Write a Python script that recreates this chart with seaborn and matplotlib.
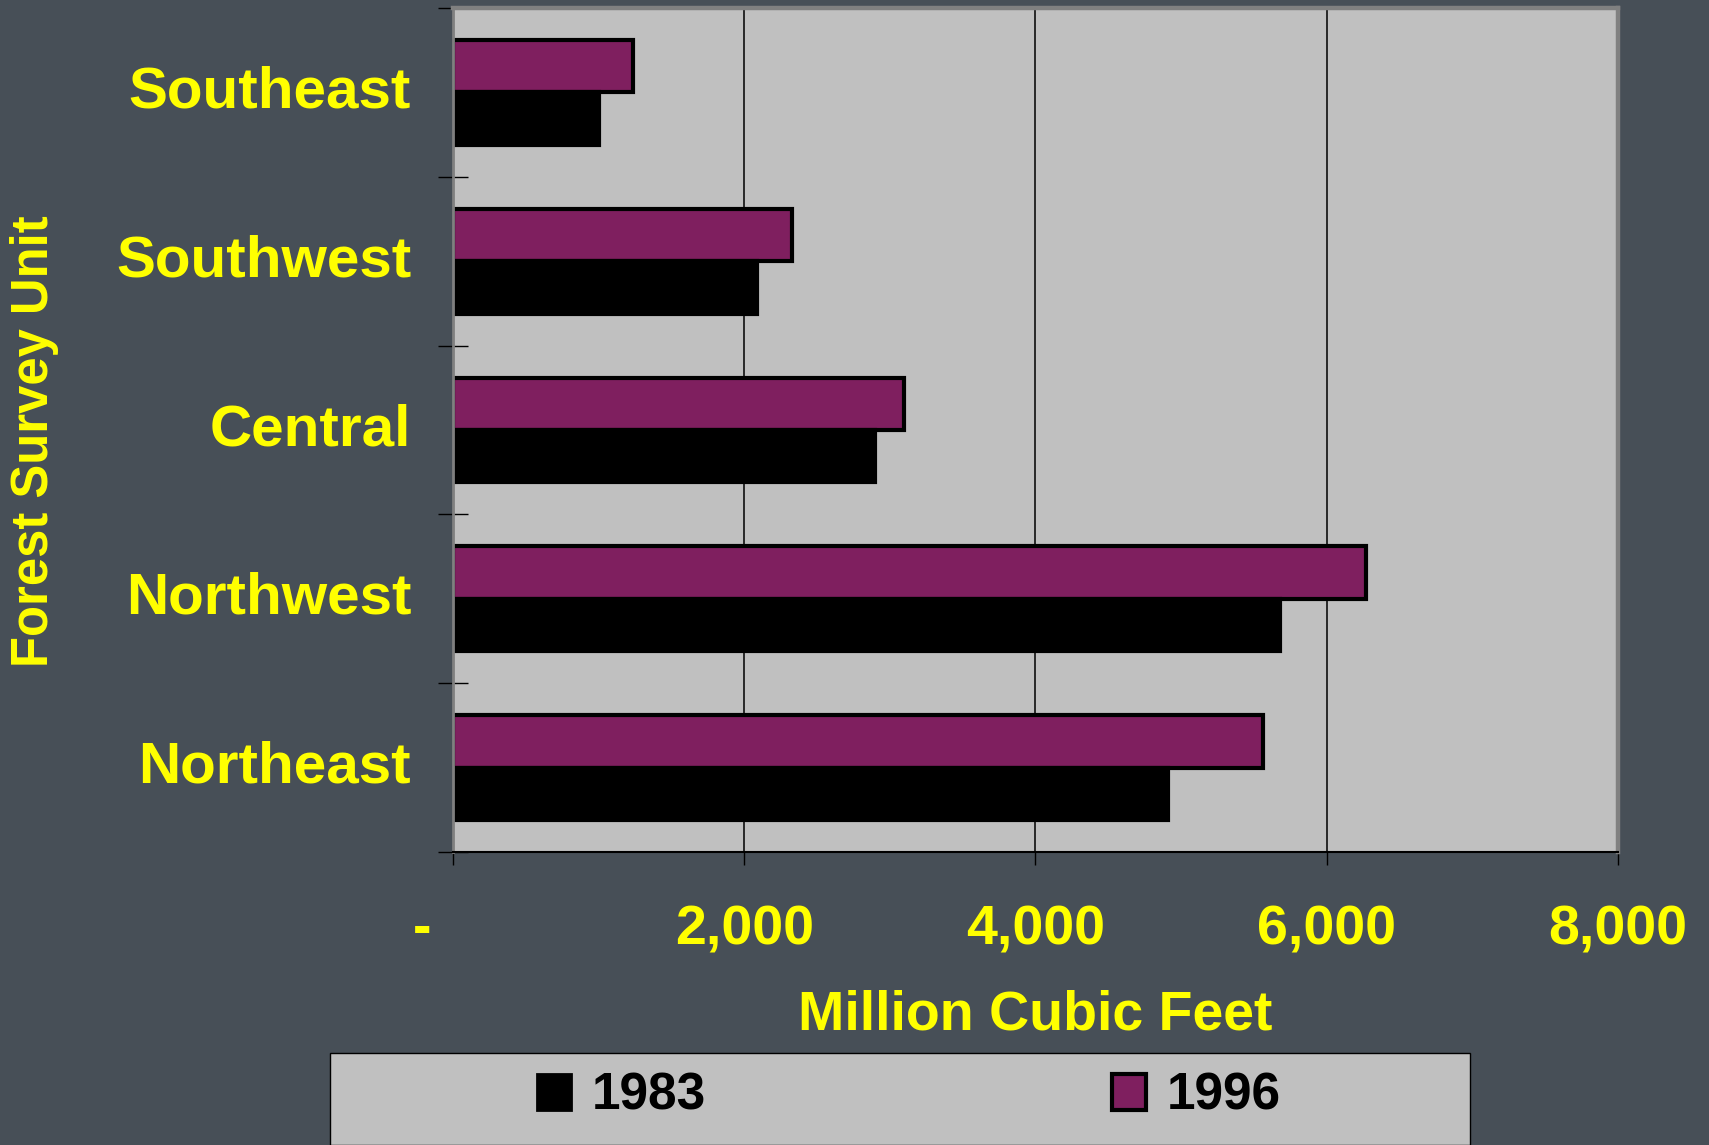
"""
Net growth by forest survey unit, 1983 vs 1996 (million cubic feet).
"""

import matplotlib
matplotlib.use("Agg")
import matplotlib.pyplot as plt
import matplotlib.transforms as mtransforms
import numpy as np
import pandas as pd
import seaborn as sns
from matplotlib.patches import Patch, Rectangle

# ---------------------------------------------------------------------------
UNITS      = ["Southeast", "Southwest", "Central", "Northwest", "Northeast"]
VOL_1983   = [1000, 2090, 2900, 5680, 4910]
VOL_1996   = [1240, 2330, 3100, 6270, 5560]
YEARS      = ["1983", "1996"]
X_TICKS    = [0, 2000, 4000, 6000, 8000]
X_LABELS   = ["-", "2,000", "4,000", "6,000", "8,000"]

BG      = "#474F57"
PLOT_BG = "#C0C0C0"
PURPLE  = "#7F1F5F"
YELLOW  = "#FFFF00"
SHADOW  = "#808080"

sns.set_theme(style="white")
plt.rcParams["font.family"] = ["Liberation Sans", "DejaVu Sans"]

df = pd.DataFrame({
    "unit":   UNITS * 2,
    "volume": VOL_1983 + VOL_1996,
    "year":   [YEARS[0]] * len(UNITS) + [YEARS[1]] * len(UNITS),
})

fig = plt.figure(figsize=(17.09, 11.45), dpi=100, facecolor=BG)
ax = fig.add_axes([0.265, 0.2559, 0.6818, 0.7371])
ax.set_facecolor(PLOT_BG)

sns.barplot(
    data=df, y="unit", x="volume", hue="year",
    order=UNITS, hue_order=["1996", "1983"],
    palette={"1996": PURPLE, "1983": "black"}, saturation=1,
    orient="h", width=0.62, edgecolor="black", linewidth=3,
    legend=False, ax=ax,
)

ax.set_xlim(0, 8000)
ax.set_xticks(X_TICKS)
ax.set_xticklabels(X_LABELS)
ax.xaxis.grid(True, color="black", linewidth=1.1)
ax.set_axisbelow(True)

# category boundaries get cross ticks, like the spreadsheet chart
ax.set_yticks(np.arange(-0.5, len(UNITS)), minor=True)
ax.tick_params(axis="y", which="minor", direction="inout", length=21,
               width=1, color="black", left=True)
ax.tick_params(axis="y", which="major", length=0, pad=30,
               labelsize=42, labelcolor=YELLOW)
ax.tick_params(axis="x", which="major", direction="out", length=9.5,
               width=1, color="black", bottom=True, pad=28,
               labelsize=40, labelcolor=YELLOW)
for lbl in ax.get_yticklabels() + ax.get_xticklabels():
    lbl.set_fontweight("bold")

# unit names sit a touch above the band centre
up = mtransforms.ScaledTranslation(0, 0.06, fig.dpi_scale_trans)
for lbl in ax.get_yticklabels():
    lbl.set_transform(lbl.get_transform() + up)

# the zero label sits left of the axis
zero_lbl = ax.get_xticklabels()[0]
zero_lbl.set_transform(zero_lbl.get_transform()
                       + mtransforms.ScaledTranslation(-0.31, 0, fig.dpi_scale_trans))

ax.set_xlabel("Million Cubic Feet", fontsize=40, fontweight="bold",
              color=YELLOW, labelpad=24)
ax.set_ylabel("Forest Survey Unit", fontsize=36.5, fontweight="bold", color=YELLOW)
ax.yaxis.set_label_coords(-0.338, 0.487)

for side in ["top", "right"]:
    ax.spines[side].set_color(SHADOW)
    ax.spines[side].set_linewidth(3.2)
ax.spines["left"].set_color(SHADOW)
ax.spines["left"].set_linewidth(2)
ax.spines["bottom"].set_color("black")
ax.spines["bottom"].set_linewidth(1.5)

# legend panel
fig.patches.append(Rectangle((330 / 1709, 0), 1140 / 1709, 92 / 1145,
                             transform=fig.transFigure, facecolor=PLOT_BG,
                             edgecolor="black", linewidth=1, zorder=0))
handles = [
    Patch(facecolor="black", edgecolor="black", linewidth=2, label="1983"),
    Patch(facecolor=PURPLE, edgecolor="black", linewidth=3, label="1996"),
]
leg = fig.legend(handles=handles, loc="center", ncol=2, frameon=False,
                 bbox_to_anchor=(909 / 1709, 1 - 1096 / 1145),
                 prop={"size": 37, "weight": "bold"}, labelcolor="black",
                 handlelength=0.67, handleheight=0.7, handletextpad=0.4,
                 columnspacing=7.9)

fig.savefig("out.png", dpi=100, facecolor=BG)
